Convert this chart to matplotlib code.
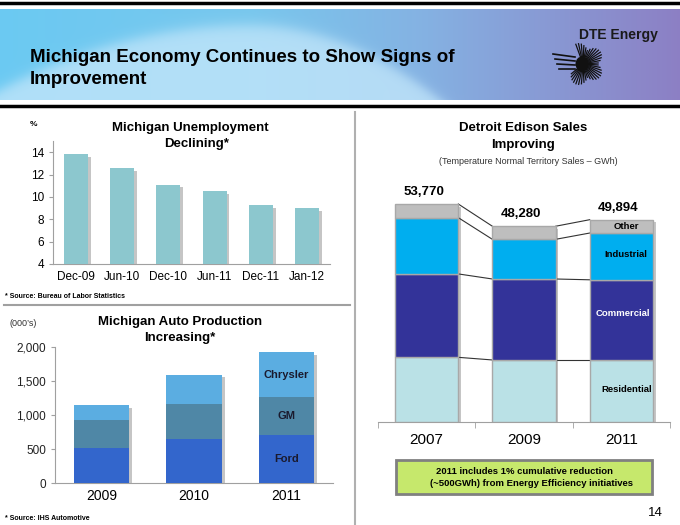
import numpy as np
import matplotlib
matplotlib.use("Agg")
import matplotlib.pyplot as plt
import matplotlib.patheffects as pe
from matplotlib.lines import Line2D
from matplotlib.patches import Rectangle, Ellipse

plt.rcParams["font.family"] = ["Liberation Sans", "DejaVu Sans"]

W, H = 680, 525

# unemployment (%)
months = ["Dec-09", "Jun-10", "Dec-10", "Jun-11", "Dec-11", "Jan-12"]
unemployment = [13.8, 12.6, 11.1, 10.5, 9.3, 9.0]

# auto production (000's)
auto_years = ["2009", "2010", "2011"]
ford = [520, 650, 700]
gm = [405, 510, 560]
chrysler = [220, 430, 660]

# Detroit Edison sales (GWh)
sales_years = ["2007", "2009", "2011"]
residential = [15900, 15250, 15250]
commercial = [20600, 20000, 19800]
industrial = [13900, 9800, 11550]
other = [3370, 3230, 3294]
totals = ["53,770", "48,280", "49,894"]


def rect(l, t, r, b):
    return [l / W, 1 - b / H, (r - l) / W, (b - t) / H]


def fx(x):
    return x / W


def fy(y):
    return 1 - y / H


shadow = [pe.SimplePatchShadow(offset=(2, -2), shadow_rgbFace="#808080", alpha=0.45), pe.Normal()]

fig = plt.figure(figsize=(6.8, 5.25), dpi=100)

# ---- header banner
bg = fig.add_axes(rect(0, 9, 680, 100))
X, Y = np.meshgrid(np.linspace(0, 680, 680), np.linspace(9, 100, 91))
stops = [0, 250, 420, 680]
cols = np.array([[0.42, 0.79, 0.95], [0.47, 0.78, 0.93], [0.52, 0.70, 0.89], [0.55, 0.50, 0.77]])
img = np.zeros(X.shape + (3,))
for c in range(3):
    img[..., c] = np.interp(X, stops, cols[:, c])
curve = np.where(X < 250, 25 + ((X - 250) / 250) ** 2 * 65, 25 + ((X - 250) / 190) ** 2 * 75)
light = 1 / (1 + np.exp(-(Y - curve) / 4))
light_col = np.array([0.76, 0.90, 0.98])
img = img * (1 - 0.8 * light[..., None]) + light_col * 0.8 * light[..., None]
bg.imshow(img, aspect="auto", extent=[0, 1, 1, 0], interpolation="bilinear")
bg.axis("off")

fig.add_artist(Line2D([0, 1], [fy(3), fy(3)], color="black", lw=2.5))
fig.add_artist(Line2D([0, 1], [fy(106), fy(106)], color="black", lw=2.5))

fig.text(fx(30), fy(58), "Michigan Economy Continues to Show Signs of", fontsize=13.5,
         fontweight="bold", va="center", ha="left")
fig.text(fx(30), fy(79), "Improvement", fontsize=13.5, fontweight="bold", va="center", ha="left")
fig.text(fx(618), fy(35), "DTE Energy", fontsize=10, fontweight="bold", va="center", ha="center",
         color="#1a1a1a")

# simple sun logo
cx, cy = 583, 64
for ang in np.linspace(-140, 110, 34):
    a = np.deg2rad(ang)
    r1, r2 = 5, 14 + 7 * abs(np.sin(2.5 * a))
    fig.add_artist(Line2D([fx(cx + r1 * np.cos(a)), fx(cx + r2 * np.cos(a))],
                          [fy(cy - r1 * np.sin(a)), fy(cy - r2 * np.sin(a))],
                          color="#111111", lw=0.9))
fig.add_artist(Ellipse((fx(cx - 1), fy(cy)), 13 / W, 15 / H, transform=fig.transFigure,
                       facecolor="#111111", edgecolor="none"))
for k in range(4):
    fig.add_artist(Line2D([fx(553 + 2 * k), fx(575)], [fy(54 + 5 * k), fy(57 + 4 * k)],
                          color="#111111", lw=1.2))

# dividers
fig.add_artist(Line2D([fx(355), fx(355)], [fy(112), fy(525)], color="#B0B0B0", lw=1.5))
fig.add_artist(Line2D([fx(4), fx(350)], [fy(305), fy(305)], color="#A0A0A0", lw=1.5))

# ---- unemployment chart
ax1 = fig.add_axes(rect(53, 141, 330, 264))
x1 = np.arange(len(months))
ax1.bar(x1, unemployment, width=0.52, color="#8CC7CE", zorder=3, path_effects=shadow)
ax1.set_ylim(4, 15)
ax1.set_xlim(-0.5, len(months) - 0.5)
ax1.set_yticks([4, 6, 8, 10, 12, 14])
ax1.set_xticks(x1)
ax1.set_xticklabels(months)
ax1.tick_params(axis="both", labelsize=8.5, colors="#A0A0A0", labelcolor="black", length=3)
ax1.tick_params(axis="x", length=0, pad=5)
for s in ["top", "right"]:
    ax1.spines[s].set_visible(False)
for s in ["left", "bottom"]:
    ax1.spines[s].set_color("#A0A0A0")
fig.text(fx(190), fy(128), "Michigan Unemployment", fontsize=9.5, fontweight="bold", ha="center", va="center")
fig.text(fx(197), fy(144), "Declining*", fontsize=9.5, fontweight="bold", ha="center", va="center")
fig.text(fx(33), fy(125), "%", fontsize=6, fontweight="bold", ha="center", va="center")
fig.text(fx(5), fy(297), "* Source: Bureau of Labor Statistics", fontsize=5, fontweight="bold",
         ha="left", va="center")

# ---- auto production chart
ax2 = fig.add_axes(rect(55, 346.7, 333, 483.3))
x2 = np.arange(len(auto_years))
auto_total = np.add(np.add(ford, gm), chrysler)
ax2.bar(x2, auto_total, width=0.6, color="white", zorder=2, path_effects=shadow)
ax2.bar(x2, ford, width=0.6, color="#3366CC", zorder=3)
ax2.bar(x2, gm, width=0.6, bottom=ford, color="#4F87A6", zorder=3)
ax2.bar(x2, chrysler, width=0.6, bottom=np.add(ford, gm), color="#5BADE1", zorder=3)
ax2.set_ylim(0, 2000)
ax2.set_xlim(-0.5, len(auto_years) - 0.5)
ax2.set_yticks([0, 500, 1000, 1500, 2000])
ax2.set_yticklabels(["0", "500", "1,000", "1,500", "2,000"])
ax2.set_xticks(x2)
ax2.set_xticklabels(auto_years)
ax2.tick_params(axis="y", labelsize=8.5, colors="#A0A0A0", labelcolor="#222222", length=3)
ax2.tick_params(axis="x", labelsize=10, length=0, pad=4)
for s in ["top", "right"]:
    ax2.spines[s].set_visible(False)
for s in ["left", "bottom"]:
    ax2.spines[s].set_color("#A0A0A0")
last = len(auto_years) - 1
ax2.text(last, ford[last] / 2, "Ford", fontsize=8, fontweight="bold", ha="center", va="center",
         color="#1a1a2e", zorder=4)
ax2.text(last, ford[last] + gm[last] / 2, "GM", fontsize=8, fontweight="bold", ha="center",
         va="center", color="#1a1a2e", zorder=4)
ax2.text(last, ford[last] + gm[last] + chrysler[last] / 2, "Chrysler", fontsize=8, fontweight="bold",
         ha="center", va="center", color="#1a1a2e", zorder=4)
fig.text(fx(180), fy(322), "Michigan Auto Production", fontsize=9.5, fontweight="bold", ha="center", va="center")
fig.text(fx(180), fy(338), "Increasing*", fontsize=9.5, fontweight="bold", ha="center", va="center")
fig.text(fx(9), fy(323), "(000\u2019s)", fontsize=6.5, ha="left", va="center", color="#333333")
fig.text(fx(5), fy(518), "* Source: IHS Automotive", fontsize=5, fontweight="bold", ha="left", va="center")

# ---- Detroit Edison sales chart
ax3 = fig.add_axes(rect(378, 180, 670, 421.7))
x3 = np.arange(len(sales_years))
bw = 0.65
layers = [residential, commercial, industrial, other]
colors = ["#BAE1E6", "#333399", "#00AEEF", "#BEBEBE"]
sales_total = np.sum(layers, axis=0)
ax3.bar(x3, sales_total, width=bw, color="white", zorder=2, path_effects=shadow)
bottom = np.zeros(len(sales_years))
bounds = []
for vals, c in zip(layers, colors):
    ax3.bar(x3, vals, width=bw, bottom=bottom, color=c, edgecolor="#A8A8A8", lw=1, zorder=3)
    bottom = bottom + np.array(vals)
    bounds.append(bottom.copy())
for b in bounds:
    for i in range(len(sales_years) - 1):
        ax3.plot([x3[i] + bw / 2, x3[i + 1] - bw / 2], [b[i], b[i + 1]], color="#333333", lw=0.8, zorder=2)
ax3.set_ylim(0, 59700)
ax3.set_xlim(-0.5, len(sales_years) - 0.5)
ax3.set_yticks([])
ax3.set_xticks(x3)
ax3.set_xticklabels(sales_years)
ax3.set_xticks(np.arange(len(sales_years) + 1) - 0.5, minor=True)
ax3.tick_params(axis="x", which="major", length=0, labelsize=11, pad=8)
ax3.tick_params(axis="x", which="minor", length=4, color="#A0A0A0")
for s in ["top", "right", "left"]:
    ax3.spines[s].set_visible(False)
ax3.spines["bottom"].set_color("#A0A0A0")
top = bounds[-1]
for i, t in enumerate(totals):
    ax3.text(x3[i] - 0.03, top[i] + 1500, t, fontsize=9.5, fontweight="bold", ha="center", va="bottom")
c0 = bounds[0][last]
c1 = bounds[1][last]
c2 = bounds[2][last]
ax3.text(last + 0.05, c0 / 2 + 250, "Residential", fontsize=6.8, fontweight="bold", ha="center", va="center", zorder=4)
ax3.text(last + 0.02, (c0 + c1) / 2 + 1500, "Commercial", fontsize=6.8, fontweight="bold", ha="center",
         va="center", color="white", zorder=4)
ax3.text(last + 0.05, (c1 + c2) / 2 + 500, "Industrial", fontsize=6.8, fontweight="bold", ha="center", va="center", zorder=4)
ax3.text(last + 0.05, (c2 + top[last]) / 2, "Other", fontsize=6.8, fontweight="bold", ha="center", va="center", zorder=4)

fig.text(fx(523), fy(128), "Detroit Edison Sales", fontsize=9.5, fontweight="bold", ha="center", va="center")
fig.text(fx(523), fy(145), "Improving", fontsize=9.5, fontweight="bold", ha="center", va="center")
fig.text(fx(528), fy(162), "(Temperature Normal Territory Sales \u2013 GWh)", fontsize=6.5, ha="center",
         va="center", color="#333333")

fig.add_artist(Rectangle((fx(396), fy(494)), fx(652) - fx(396), fy(460) - fy(494), transform=fig.transFigure,
                         facecolor="#C6E86C", edgecolor="#808080", lw=2))
fig.text(fx(524), fy(471), "2011 includes 1% cumulative reduction", fontsize=6.8, fontweight="bold",
         ha="center", va="center")
fig.text(fx(532), fy(484), "(~500GWh) from Energy Efficiency initiatives", fontsize=6.8, fontweight="bold",
         ha="center", va="center")
fig.text(fx(655), fy(513), "14", fontsize=9.5, ha="center", va="center")

fig.savefig("out.png", dpi=100)
